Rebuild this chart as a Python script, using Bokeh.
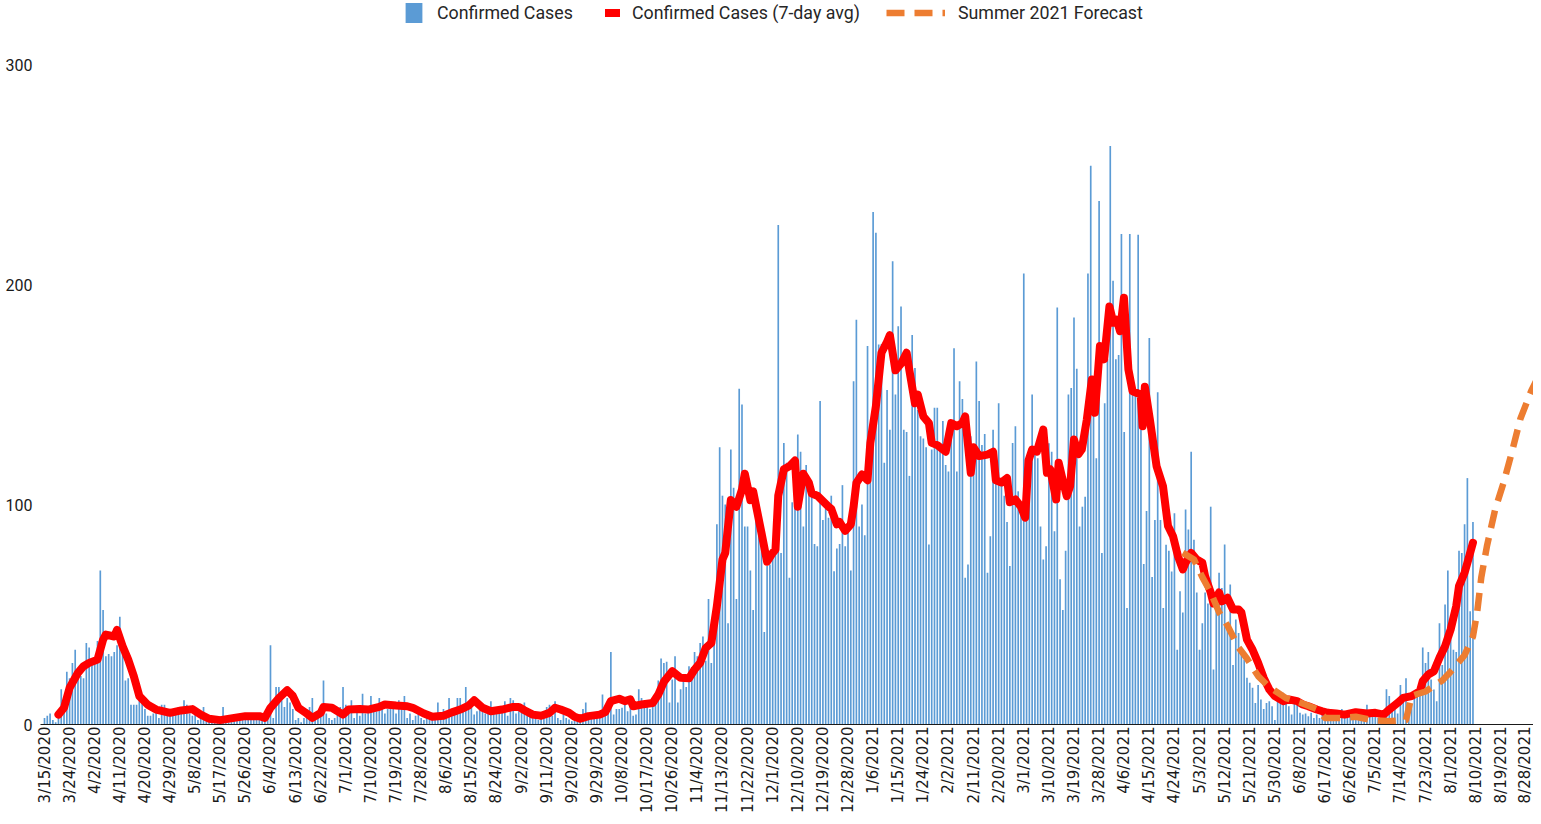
import datetime as dt
from math import pi

from bokeh.plotting import figure
from bokeh.models import ColumnDataSource, FixedTicker, Range1d, Legend, LegendItem
from bokeh.embed import file_html
from bokeh.resources import INLINE

# ---------------- data ----------------
START_DATE = dt.date(2020, 3, 15)

# daily confirmed cases, one value per day starting 3/15/2020
confirmed_cases = [
    3, 4, 5, 2, 1, 4, 16, 8, 24, 21,
    28, 34, 25, 22, 21, 37, 35, 29, 30, 38,
    70, 52, 31, 32, 31, 33, 36, 49, 34, 20,
    21, 9, 9, 9, 11, 13, 7, 4, 4, 5,
    8, 3, 9, 9, 6, 5, 5, 7, 8, 5,
    11, 9, 5, 4, 7, 2, 4, 8, 2,
    # d59-
    3, 1, 2, 1, 3, 8, 2, 1, 3, 2,
    4, 2, 5, 3, 2, 3, 4, 2, 3, 4,
    2, 3, 36, 3, 17, 17, 11, 8, 12, 10,
    7, 2, 3, 1, 3, 7, 8, 12, 2, 5,
    4, 20, 5, 3, 2, 3, 5, 8, 17, 9,
    5, 11, 3, 7, 4, 14, 5, 8, 13, 7,
    6, 12, 8, 5, 7, 8, 9, 5, 11, 7,
    13, 3, 5, 2, 4, 8, 3, 2, 3, 4,
    2, 3, 10, 4, 7, 5, 12, 4, 6, 12,
    # d149-
    12, 8, 17, 9, 8, 4.5, 6, 8, 6, 5,
    7, 10.6, 6, 7, 6, 7, 10.6, 4, 12, 11,
    5, 6, 7, 10, 4, 5, 6, 4, 2, 3,
    5, 8, 9, 4, 10.6, 3, 2, 4.5, 3, 2.3,
    1.5, 3, 2, 1.5, 7, 10, 3, 4.5, 3, 4,
    5, 13.6, 5.3, 7, 33, 4.5, 7, 7, 7.6, 9.8,
    6, 11.4, 4, 4.5, 16, 12, 8, 8.3, 7, 12,
    10, 20, 30, 28, 28.5, 10, 20.5, 31, 10, 16, 20, 17,
    # d231-
    26.5, 26, 33, 31, 37, 40, 29, 57, 28, 54.5,
    91, 126, 104, 100, 46, 125, 107.6, 57, 152.6, 145.5,
    90, 90, 70, 52, 105, 100, 81, 42, 72, 72.7,
    79, 79, 227, 78, 128, 119, 66.7, 101, 116.6, 131.8,
    124, 90, 118, 105, 109, 82, 81, 147, 93, 98,
    94, 104, 69.7, 80, 82, 108.8, 81, 87, 70, 156,
    184,
    # d292-
    90, 100, 86, 172, 113, 233, 223.5, 172.7, 173, 119,
    152, 134, 210.6, 150, 181, 190, 134, 133, 113, 177,
    162, 143, 131, 130, 126, 81.8, 125, 144, 144, 128,
    138, 118, 115, 131, 171, 115, 156, 148, 66.7, 72.7,
    131, 126, 165, 147, 127, 132, 69, 85.6, 134, 111,
    146, 110, 104, 92, 72, 128, 135.6, 106, 101, 205,
    # d352-
    96.5, 121.7, 150, 122.6, 121, 90, 75, 81, 127.8, 124,
    87.8, 189.6, 66, 52, 79, 150, 153, 185, 161.7, 90,
    99, 103.5, 205, 254, 150, 121, 238, 78, 146, 166,
    263, 201.7, 166, 168, 223, 133, 53, 223, 152, 150,
    222.6, 134, 73, 97, 175.7, 67, 93, 151, 93, 53,
    81.7, 79, 69.6,
    # d405-
    96, 34, 60.6, 50.9, 97.7, 88.6, 124, 84, 60, 34,
    46, 60, 55, 99, 25, 53.8, 69, 62, 81.8, 46,
    63.6, 27, 47.7, 41.6, 32.6, 29.5, 21.2, 19, 16.7, 9.8,
    18, 11.4, 7, 9.8, 10.6, 8.3, 2, 12, 9.8, 14.4,
    12, 8.3, 4.5, 9.8, 9, 5.3, 4.5, 5, 3.8, 5.3,
    3, 4.5, 3, 4.5, 2.3, 3.8, 3, 3,
    # d463-
    4, 6, 7, 4, 4.5, 4, 3, 3.5, 2, 4,
    4, 9, 6, 4.5, 4, 3, 3.5, 2, 16, 13,
    6, 7, 5, 18, 11, 21, 8.5, 9, 12, 14,
    16, 35, 28, 33, 20.5, 15.9, 10.6, 46, 27, 54.5,
    70, 38.6, 34, 33, 79, 78, 91, 112, 51.5, 92,
]

# 7-day average, read at (day offset from 3/15/2020, value)
avg_points = [
    (5, 4.5), (7, 7.6), (9, 16.7), (12, 23.5), (14, 26.5), (16, 28), (19, 29.5),
    (21, 38.6), (22, 40.9), (25, 40), (26, 43), (28, 35.6), (30, 29.5), (32, 22),
    (34, 12.9), (37, 9), (40, 6.8), (45, 5.3), (49, 6.4), (53, 7), (56, 4.5),
    (59, 2.6), (63, 2), (68, 3), (72, 3.8), (77, 3.8), (79, 3), (81, 7.6),
    (84, 12), (87, 15.6), (89, 13), (91, 7.6), (94, 5), (96, 3), (99, 5.3),
    (100, 8), (103, 7.6), (107, 4.5), (109, 6.8), (113, 7), (116, 6.8), (120, 8),
    (122, 9.1), (126, 8.6), (130, 8.3), (132, 7.6), (136, 5), (139, 3.5), (143, 4),
    (146, 5.5), (149, 6.8), (152, 8.6), (154, 11), (157, 7.6), (160, 6), (164, 6.8),
    (168, 8), (170, 8), (172, 6.5), (175, 4.5), (178, 4), (181, 5.3), (183, 7.6),
    (185, 6.8), (188, 5.3), (190, 3.5), (192, 2.6), (195, 3.8), (199, 4.5), (201, 5.6),
    (203, 10.6), (206, 11.7), (208, 10.6), (210, 11.4), (211, 8.3), (214, 9.1),
    (218, 9.8), (220, 13.6), (222, 19.4), (225, 24.2), (228, 21.2), (231, 21),
    (233, 25), (235, 28), (237, 34.8), (239, 37), (241, 53.8), (243, 75), (244, 78),
    (246, 102), (248, 99), (250, 106.8), (251, 114), (253, 102), (254, 106), (257, 87),
    (259, 74), (261, 78), (262, 79.5), (263, 104), (265, 116), (267, 117.4), (269, 120),
    (270, 99), (272, 114), (274, 109.8), (275, 105), (277, 104), (279, 101.5), (281, 99),
    (282, 98), (284, 91), (285, 92), (287, 88), (289, 91), (290, 99), (291, 109.8),
    (293, 113.6), (295, 111), (296, 128), (298, 144.7), (300, 169), (302, 174), (303, 177),
    (305, 161), (307, 164), (309, 169), (310, 161), (312, 146), (313, 150), (315, 140),
    (317, 137), (318, 128), (320, 127), (323, 124), (325, 137), (327, 135.6), (329, 137),
    (330, 140), (332, 114.4), (333, 126), (335, 122), (338, 122.7), (340, 124), (341, 111),
    (343, 110), (345, 112), (346, 101), (348, 102.3), (350, 99), (351.5, 94),
    (352.7, 120), (354, 125), (355.7, 124), (358, 134), (359.3, 114.4), (360.5, 116),
    (362.6, 102.3), (363.5, 119), (365.2, 109.8), (366.4, 103.8), (367.6, 108.3),
    (369, 129.5), (370.6, 122.9), (371.8, 125), (373.6, 138.6), (375.4, 156.8),
    (376.5, 141.7), (378.3, 172), (379.8, 166), (381.7, 190), (383.1, 182.6),
    (384.3, 184), (385.5, 178.8), (386.9, 194), (388.5, 161.4), (390, 151.5),
    (392.9, 150), (393.6, 135.6), (394.4, 153.5), (396.2, 138.6), (398.6, 117.4),
    (400.9, 108.3), (402.7, 90.2), (404.5, 85.6), (406.3, 76.4),
    (408, 70.5), (409, 73.5), (411, 78), (413, 75),
    (415, 73.5), (416, 67.4), (418, 60), (419, 55), (421, 60), (422, 56), (424, 57.6),
    (426, 52.3), (428, 52.3), (429, 50.9), (431, 38.6), (433, 34), (435, 28), (437, 21.2),
    (439, 15.9), (441, 12.9), (444, 10.6), (446, 11.4), (449, 10.6), (451, 9.1),
    (453, 8.3), (456, 6.8), (458, 6), (460, 5.3), (463, 5), (466, 4.5), (470, 5.6),
    (474, 5), (477, 5.3), (480, 4.5), (482, 6.8), (485, 9.8), (487, 12.1), (490, 12.9),
    (493, 15.2), (494, 19.7), (496, 22.7), (498, 24.2), (499, 27.3), (500, 30.3),
    (502, 35.6), (504, 43.2), (506, 53.8), (507, 62.9), (509, 69), (510, 73.5), (512, 82.6),
]

# Summer 2021 forecast, read at (day offset, value)
forecast_points = [
    (408, 78), (412, 75), (415, 67), (418, 60), (421, 51), (424, 45), (428, 35),
    (431, 30), (435, 22), (439, 17), (445, 12), (450, 10), (456, 7), (459, 3),
    (465, 3), (470, 3.5), (476, 2), (482, 1.5), (488, 2), (490, 13), (495, 15),
    (501, 20), (504, 24), (509, 31.5), (512, 40), (513.5, 51), (515, 67), (517, 81),
    (520, 98), (523, 110), (526, 124), (529, 139), (533, 152), (535, 157),
]

TICK_STEP_DAYS = 9
TICK_COUNT = 60
tick_days = [i * TICK_STEP_DAYS for i in range(TICK_COUNT)]
tick_dates = [START_DATE + dt.timedelta(days=d) for d in tick_days]
tick_labels = [f"{d.month}/{d.day}/{d.year}" for d in tick_dates]
y_ticks = [0, 100, 200, 300]

# ---------------- figure ----------------
FIG_H = 816
BOTTOM = 92
FRAME_H = FIG_H - BOTTOM          # plot-area height in px
PX_PER_UNIT = 2.2

p = figure(
    width=1533, height=FIG_H,
    output_backend="svg", toolbar_location=None,
    x_range=Range1d(-1.434, 533.7), y_range=Range1d(0, FRAME_H / PX_PER_UNIT),
    min_border_left=40, min_border_right=0, min_border_top=0, min_border_bottom=BOTTOM,
)
p.outline_line_color = None
p.xgrid.visible = False
p.ygrid.visible = False
p.background_fill_color = "white"

bar_src = ColumnDataSource(dict(day=list(range(len(confirmed_cases))), cases=confirmed_cases))
bars = p.vbar(x="day", top="cases", width=0.6, source=bar_src,
              fill_color="#5B9BD5", line_color=None)

avg_src = ColumnDataSource(dict(day=[d for d, _ in avg_points], val=[v for _, v in avg_points]))
avg_line = p.line(x="day", y="val", source=avg_src, line_color="#FF0000",
                  line_width=8, line_join="round", line_cap="round")

fc_src = ColumnDataSource(dict(day=[d for d, _ in forecast_points], val=[v for _, v in forecast_points]))
fc_line = p.line(x="day", y="val", source=fc_src, line_color="#ED7D31",
                 line_width=6.5, line_dash="18 10", line_join="round")

# x axis
xa = p.xaxis[0]
xa.ticker = FixedTicker(ticks=tick_days)
xa.major_label_overrides = {d: lab for d, lab in zip(tick_days, tick_labels)}
xa.major_label_orientation = pi / 2
xa.major_tick_line_color = None
xa.minor_tick_line_color = None
xa.major_tick_out = 0
xa.major_tick_in = 0
xa.axis_line_color = "#1a1a1a"
xa.axis_line_width = 1.2
xa.major_label_text_font = "DejaVu Sans"
xa.major_label_text_font_size = "15px"
xa.major_label_text_color = "#1a1a1a"
xa.major_label_standoff = 2

# y axis
ya = p.yaxis[0]
ya.ticker = FixedTicker(ticks=y_ticks)
ya.axis_line_color = None
ya.major_tick_line_color = None
ya.minor_tick_line_color = None
ya.major_tick_out = 0
ya.major_tick_in = 0
ya.major_label_text_font = "Roboto"
ya.major_label_text_font_size = "16px"
ya.major_label_text_color = "#1a1a1a"
ya.major_label_standoff = 8

# legends (one per item so each glyph can have its own width)
LEG_H = 25
common = dict(padding=0, margin=0, border_line_color=None, background_fill_alpha=0,
              label_text_font="Roboto", label_text_font_size="17.8px",
              label_text_color="#262626", glyph_height=LEG_H, label_height=LEG_H)
leg_y = FRAME_H - LEG_H
leg1 = Legend(items=[LegendItem(label="Confirmed Cases", renderers=[bars])],
              location=(363, leg_y), glyph_width=21, label_standoff=13, **common)
leg2 = Legend(items=[LegendItem(label="Confirmed Cases (7-day avg)", renderers=[avg_line])],
              location=(565, leg_y), glyph_width=15, label_standoff=12, **common)
leg3 = Legend(items=[LegendItem(label="Summer 2021 Forecast", renderers=[fc_line])],
              location=(846, leg_y), glyph_width=59, label_standoff=13, **common)
for lg in (leg1, leg2, leg3):
    p.add_layout(lg)

open("out.html", "w").write(file_html(p, INLINE))
